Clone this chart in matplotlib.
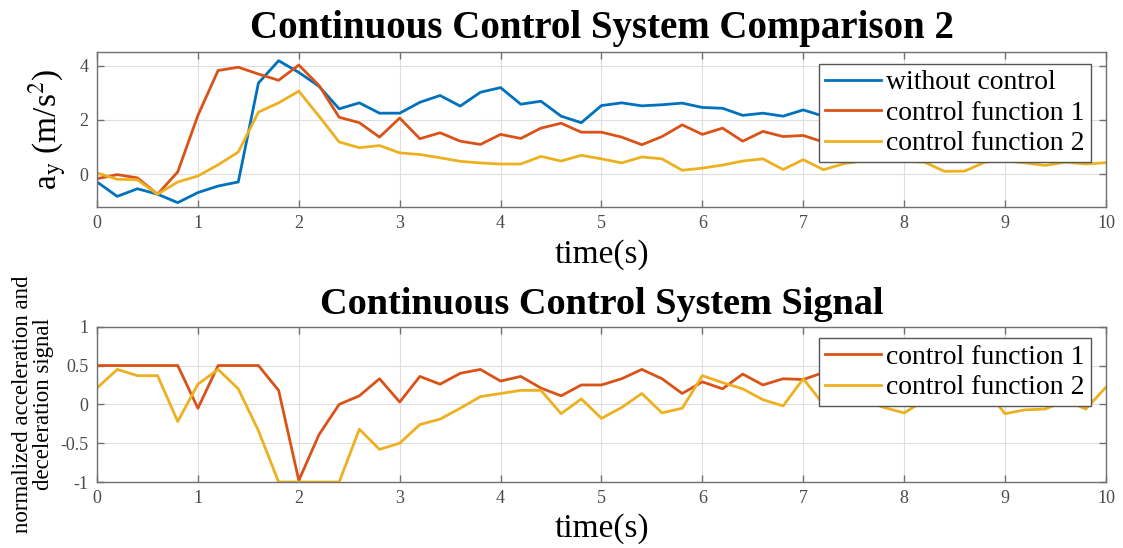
import numpy as np
import matplotlib
matplotlib.use("Agg")
import matplotlib.pyplot as plt

plt.rcParams['font.family'] = ['Liberation Serif', 'DejaVu Serif']
plt.rcParams['mathtext.fontset'] = 'stix'

# time axis (s)
t_full = [round(0.2 * i, 1) for i in range(51)]
t_short = t_full[:50]

# lateral acceleration a_y (m/s^2)
ay_without = [-0.28, -0.81, -0.53, -0.73, -1.04, -0.67, -0.43, -0.28, 3.36, 4.18,
              3.75, 3.24, 2.41, 2.63, 2.25, 2.25, 2.65, 2.90, 2.51, 3.02,
              3.19, 2.58, 2.69, 2.14, 1.90, 2.53, 2.63, 2.52, 2.56, 2.62,
              2.46, 2.43, 2.17, 2.25, 2.14, 2.37, 2.14, 2.30, 2.10, 2.20,
              2.40, 2.20, 2.10, 2.30, 2.20, 2.00, 2.20, 2.30, 2.10, 2.20]
ay_cf1 = [-0.16, -0.01, -0.13, -0.73, 0.09, 2.17, 3.82, 3.94, 3.69, 3.46,
          4.02, 3.27, 2.10, 1.90, 1.37, 2.07, 1.31, 1.53, 1.22, 1.10,
          1.47, 1.32, 1.70, 1.88, 1.55, 1.55, 1.37, 1.09, 1.39, 1.82,
          1.47, 1.70, 1.22, 1.58, 1.39, 1.43, 1.19, 1.40, 1.30, 1.50,
          1.20, 1.40, 1.60, 1.30, 1.40, 1.20, 1.50, 1.30, 1.40, 1.30]
ay_cf2 = [0.05, -0.18, -0.20, -0.73, -0.28, -0.06, 0.35, 0.82, 2.29, 2.63,
          3.06, 2.14, 1.19, 0.98, 1.06, 0.79, 0.73, 0.61, 0.48, 0.42,
          0.38, 0.38, 0.66, 0.49, 0.70, 0.57, 0.42, 0.64, 0.57, 0.15,
          0.23, 0.34, 0.49, 0.57, 0.18, 0.54, 0.17, 0.39, 0.50, 0.55,
          0.48, 0.45, 0.11, 0.12, 0.45, 0.50, 0.42, 0.33, 0.45, 0.38,
          0.43]

# normalized acceleration / deceleration signal
sig_cf1 = [0.50, 0.50, 0.50, 0.50, 0.50, -0.05, 0.50, 0.50, 0.50, 0.18,
           -0.98, -0.39, 0.00, 0.11, 0.33, 0.03, 0.36, 0.26, 0.40, 0.45,
           0.30, 0.36, 0.21, 0.11, 0.25, 0.25, 0.33, 0.45, 0.33, 0.14,
           0.29, 0.20, 0.39, 0.25, 0.33, 0.32, 0.41, 0.30, 0.35, 0.25,
           0.40, 0.30, 0.20, 0.35, 0.30, 0.40, 0.25, 0.30, 0.35, 0.30]
sig_cf2 = [0.21, 0.45, 0.37, 0.37, -0.22, 0.26, 0.45, 0.20, -0.34, -1.00,
           -1.00, -1.00, -1.00, -0.32, -0.58, -0.50, -0.26, -0.19, -0.05, 0.10,
           0.14, 0.18, 0.18, -0.12, 0.07, -0.18, -0.04, 0.14, -0.11, -0.05,
           0.37, 0.28, 0.20, 0.06, -0.02, 0.33, 0.00, 0.10, 0.05, -0.04,
           -0.11, 0.05, 0.15, 0.10, 0.20, -0.12, -0.07, -0.06, 0.05, -0.06,
           0.22]

xticks = list(range(0, 11))

BLUE = '#0072BD'
ORANGE = '#D95319'
YELLOW = '#EDB120'
AXCOL = '#707070'
TICKCOL = '#4a4a4a'
LW = 2.0


def style_axes(ax):
    ax.grid(True, color='#dedede', linewidth=0.8)
    ax.set_axisbelow(True)
    for s in ax.spines.values():
        s.set_color(AXCOL)
        s.set_linewidth(1.0)
    ax.tick_params(direction='in', length=5, width=1.0, color=AXCOL,
                   labelcolor=TICKCOL, labelsize=13, top=True, right=True,
                   pad=6)
    ax.set_xlim(0, 10)
    ax.set_xticks(xticks)


def add_legend(ax, top):
    leg = ax.legend(loc='upper right', bbox_to_anchor=(0.985, top),
                    borderaxespad=0, fontsize=20, handlelength=2.0,
                    handletextpad=0.2, labelspacing=0.18, borderpad=0.22,
                    fancybox=False, framealpha=1)
    leg.get_frame().set_edgecolor('#555555')
    leg.get_frame().set_linewidth(1.0)
    return leg


fig = plt.figure(figsize=(11.23, 5.48), dpi=100)
ax1 = fig.add_axes([0.0864, 0.6223, 0.8984, 0.2828])
ax2 = fig.add_axes([0.0864, 0.1204, 0.8984, 0.2834])

# top: acceleration comparison
ax1.plot(t_short, ay_without, color=BLUE, lw=LW, label='without control')
ax1.plot(t_short, ay_cf1, color=ORANGE, lw=LW, label='control function 1')
ax1.plot(t_full, ay_cf2, color=YELLOW, lw=LW, label='control function 2')
style_axes(ax1)
ax1.set_ylim(-1.2, 4.5)
ax1.set_yticks([0, 2, 4])
ax1.set_title('Continuous Control System Comparison 2', fontsize=28,
              fontweight='bold', pad=10)
ax1.set_xlabel('time(s)', fontsize=24, labelpad=5)
ax1.set_ylabel(r'a$_\mathrm{y}$ (m/s$^2$)', fontsize=24, labelpad=8)
add_legend(ax1, 0.923)

# bottom: control signal
ax2.plot(t_short, sig_cf1, color=ORANGE, lw=LW, label='control function 1')
ax2.plot(t_full, sig_cf2, color=YELLOW, lw=LW, label='control function 2')
style_axes(ax2)
ax2.set_ylim(-1, 1)
ax2.set_yticks([-1, -0.5, 0, 0.5, 1])
ax2.set_yticklabels(['-1', '-0.5', '0', '0.5', '1'])
ax2.set_title('Continuous Control System Signal', fontsize=27.5,
              fontweight='bold', pad=9)
ax2.set_xlabel('time(s)', fontsize=24, labelpad=4)
ax2.set_ylabel('normalized acceleration and\ndeceleration signal',
               fontsize=16.5, labelpad=5, linespacing=1.0)
add_legend(ax2, 0.925)

fig.savefig('out.png', dpi=100)
